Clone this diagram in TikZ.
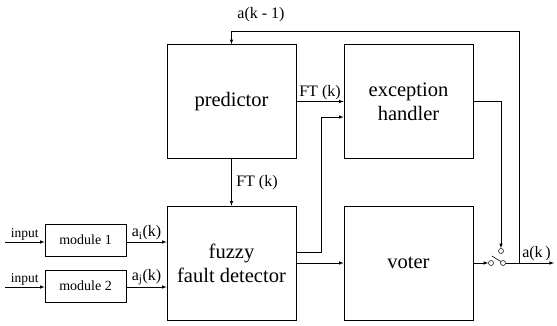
\documentclass[tikz,border=0pt]{standalone}
\usepackage{fontspec}
\newfontfamily\tnr{Liberation Serif}

\begin{document}
\begin{tikzpicture}[> = latex, x=1pt, y=-1pt, line width=0.6pt]
    \tikzset{
      blk/.style={draw, minimum width=129pt, minimum height=114pt, align=center, inner sep=0pt, font=\tnr\fontsize{20.5}{24}\selectfont},
      mdl/.style={draw, minimum width=81pt, minimum height=32pt, inner sep=0pt, font=\tnr\fontsize{14}{16}\selectfont},
      lbl/.style={inner sep=1.5pt, font=\tnr\fontsize{16}{18}\selectfont},
      contact/.style={circle, draw, minimum size=5pt, inner sep=0pt, line width=0.5pt},
    }
    \useasboundingbox (0,0) rectangle (557,326);
    % blocks
    \node [blk] (pred) at (231.5,101.5) {predictor};
    \node [blk] (hand) at (408.5,101.5) {exception\\handler};
    \node [blk] (fuzzy) at (231.5,263) {fuzzy\\fault detector};
    \node [blk] (voter) at (408.5,263) {voter};
    \node [mdl] (m1) at (85.5,240) {module 1};
    \node [mdl] (m2) at (85.5,286) {module 2};
    % switch
    \node [contact] (sL) at (491,263) {};
    \node [contact] (sR) at (503,263) {};
    \node [contact] (sT) at (501,251) {};
    \coordinate (blade) at (492,256);
    \coordinate (br) at (519,263);
    \coordinate (out) at (554,263);
    \coordinate (fb) at (519,31);
    \coordinate (in1) at (5,242);
    \coordinate (in2) at (5,287);
    \coordinate (fh1) at (296,252);
    \coordinate (fh2) at (321,117);
    % connectors
    \draw[->] (in1) -- (in1 -| m1.west) node[lbl, midway, above, font=\tnr\fontsize{13.5}{15}\selectfont] {input};
    \draw[->] (in2) -- (in2 -| m2.west) node[lbl, midway, above, font=\tnr\fontsize{13.5}{15}\selectfont] {input};
    \draw[->] (in1 -| m1.east) -- (in1 -| fuzzy.west) node[lbl, midway, above] {a\textsubscript{i}(k)};
    \draw[->] (in2 -| m2.east) -- (in2 -| fuzzy.west) node[lbl, midway, above] {a\textsubscript{j}(k)};
    \draw[->] (pred.south) -- (fuzzy.north) node[lbl, midway, right, xshift=3pt] {FT (k)};
    \draw[->] (pred.east) -- (pred.east -| hand.west) node[lbl, midway, above] {FT (k)};
    \draw[->] (fh1) -| (fh2) -- (fh2 -| hand.west);
    \draw[->] (fuzzy.east) -- (voter.west);
    \draw[->] (voter.east) -- (sL);
    \draw (sR) -- (blade);
    \draw[->] (hand.east) -| (sT);
    \draw (sR) -- (br);
    \draw[->] (br) -- (out) node[lbl, midway, above] {a(k\,)};
    \draw[->] (br) -- (fb) -| (pred.north);
    \node [lbl] (fblbl) at (261,15) {a(k - 1)};
\end{tikzpicture}
\end{document}
